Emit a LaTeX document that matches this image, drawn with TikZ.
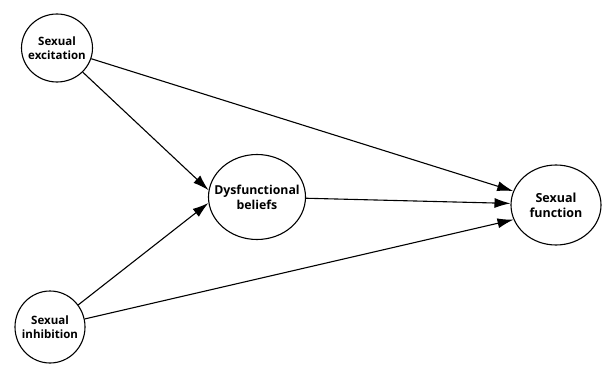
\documentclass[tikz,border=0pt]{standalone}
\usepackage{fontspec}
\setmainfont{Open Sans}
\usetikzlibrary{shapes.geometric,arrows.meta}
\begin{document}
\begin{tikzpicture}[x=1pt,y=-1pt]

        \useasboundingbox (0,0) rectangle (602,366);

        \begin{scope}[every node/.style={ellipse,draw,line width=1.1pt,inner sep=-14pt,
            align=center,font=\fontsize{11.5}{13.5}\selectfont\bfseries}]
          \node[minimum width=71pt,minimum height=68pt] (exc)  at (57,48)   {Sexual\\excitation};
          \node[minimum width=97pt,minimum height=85pt,font=\fontsize{12.3}{15}\selectfont\bfseries]
            (bel)  at (257,197) {Dysfunctional\\beliefs};
          \node[minimum width=90pt,minimum height=80pt,font=\fontsize{12.5}{15}\selectfont\bfseries]
            (fun)  at (556,205) {Sexual\\function};
          \node[minimum width=70pt,minimum height=72pt] (inh)  at (50,327)  {Sexual\\inhibition};
        \end{scope}

        \begin{scope}[every edge/.style={draw,line width=1.1pt,-{Latex[length=16pt,width=10pt]}}]
          \path (exc) edge (bel.172);
          \path (inh) edge (bel.187);
          \path (exc) edge (fun.162);
          \path (bel) edge (fun.178);
          \path (inh) edge (fun.199);
        \end{scope}

      \end{tikzpicture}
\end{document}
